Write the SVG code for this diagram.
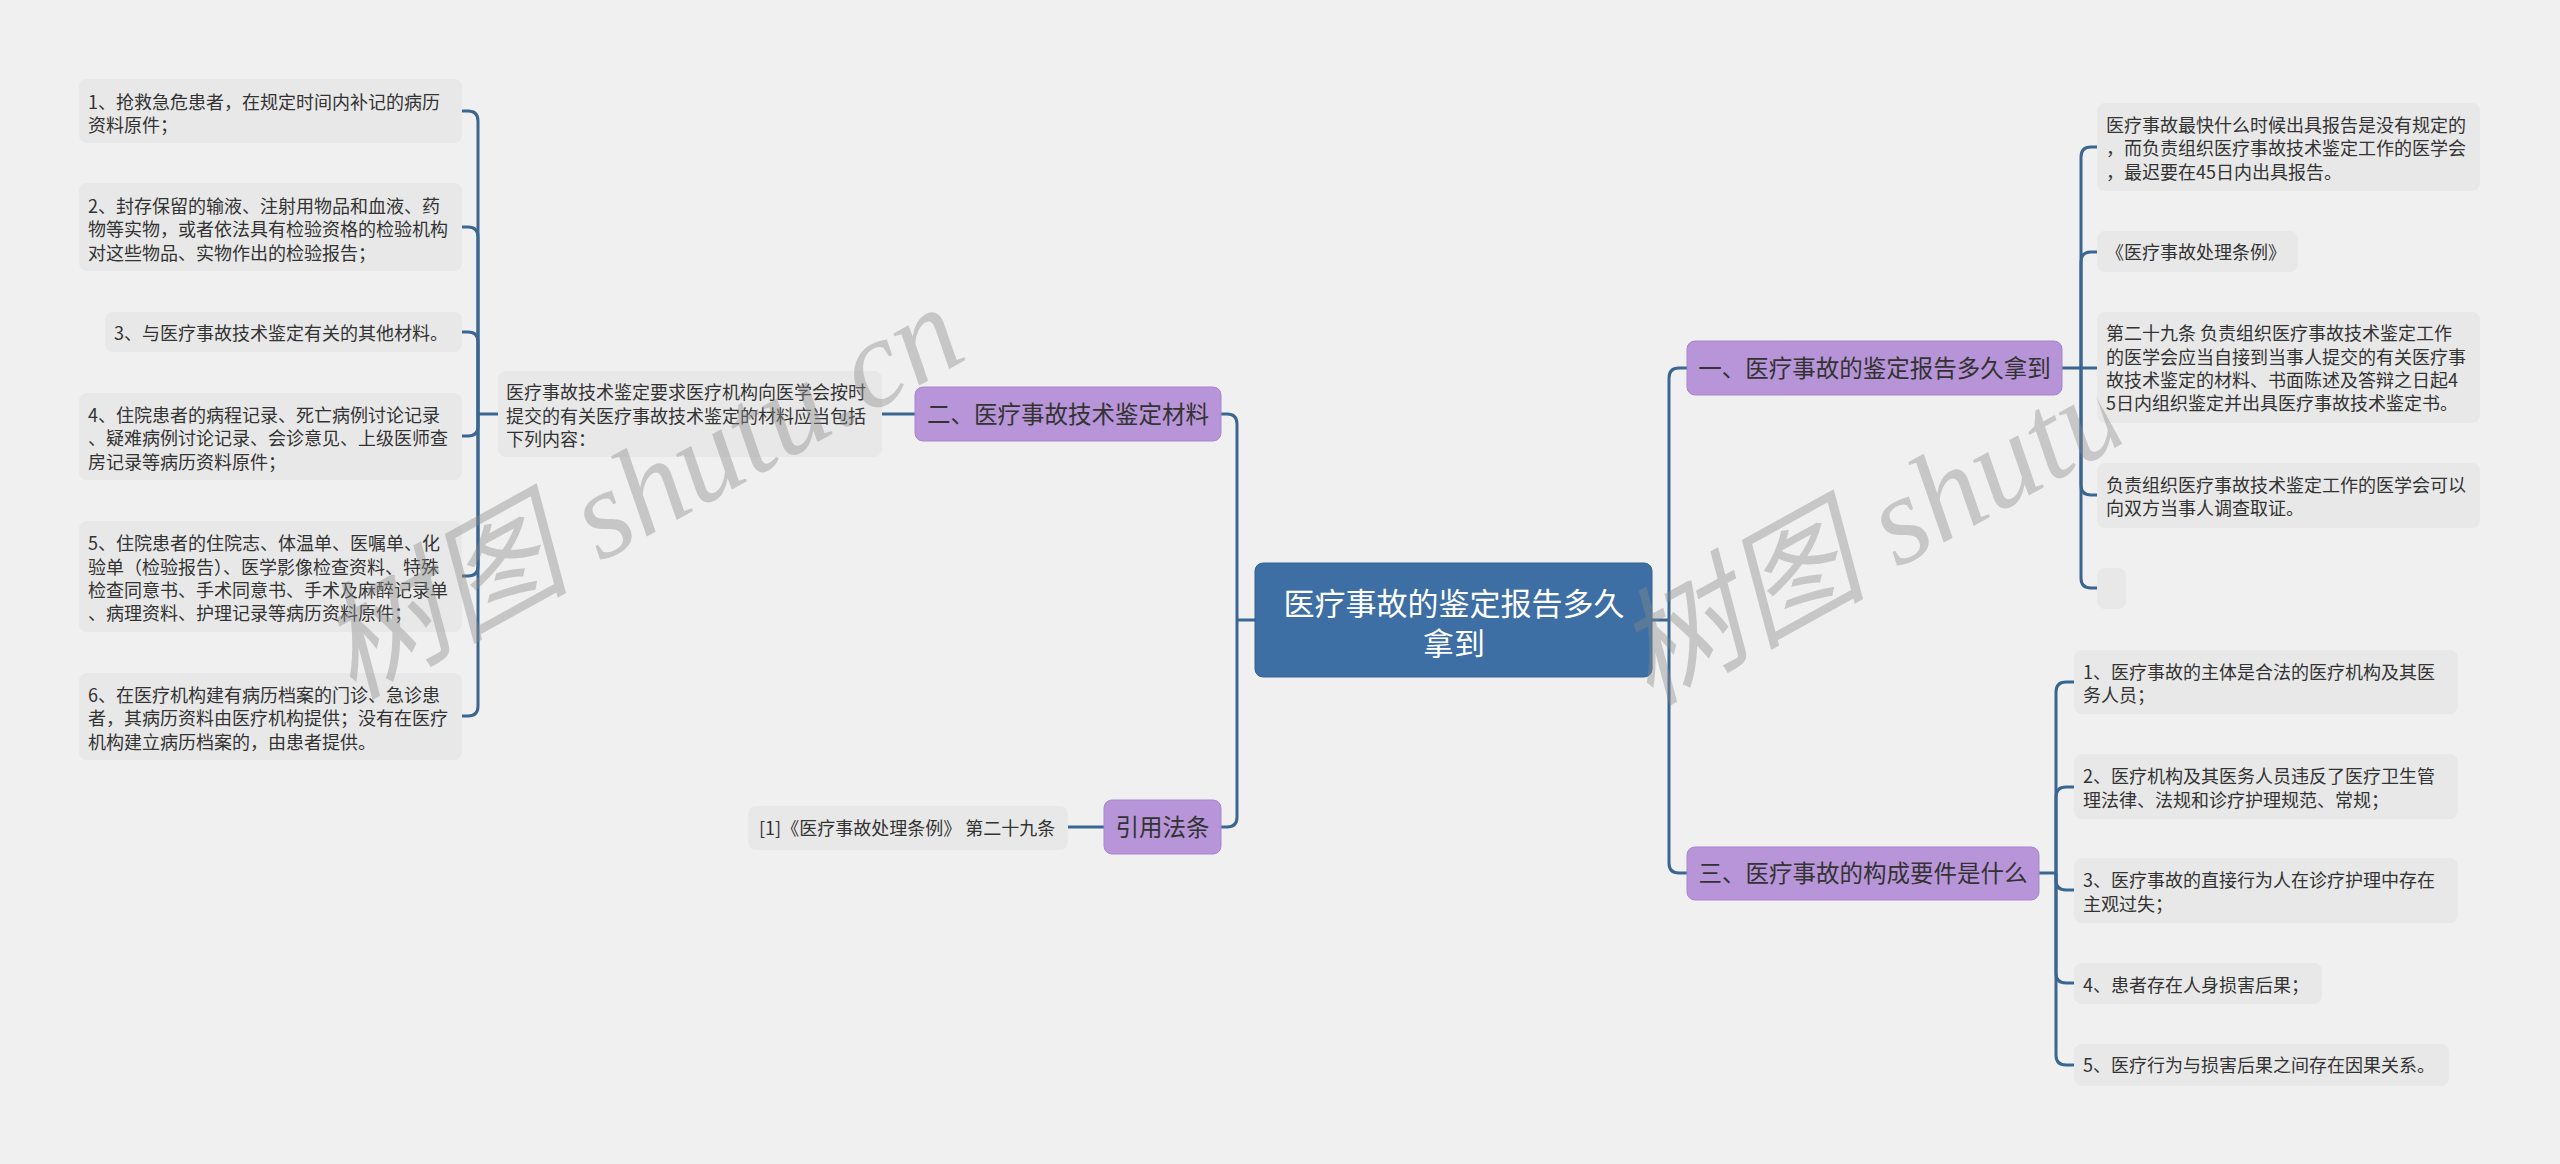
<svg xmlns="http://www.w3.org/2000/svg" width="2560" height="1164" viewBox="0 0 2560 1164">
<defs>
<style>
.item{fill:#e8e8e8}
.branch{fill:#b795d8;stroke:#a985cf;stroke-width:1}
.root{fill:#3d6fa4;stroke:#35628f;stroke-width:1}
.t{font-family:"Noto Sans CJK SC","Noto Sans",sans-serif;font-size:18px;fill:#333}
.bt{font-family:"Noto Sans CJK SC","Noto Sans",sans-serif;font-size:23.5px;fill:#333;text-anchor:middle}
.rt{font-family:"Noto Sans CJK SC","Noto Sans",sans-serif;font-size:31px;fill:#fff;text-anchor:middle}
.conn path{fill:none;stroke:#3a6792;stroke-width:3}
.wm{font-family:"Liberation Serif","Noto Sans CJK SC",serif;font-style:italic;font-size:126px;fill:#8a8a8a;opacity:0.4}
</style>
<clipPath id="wmclip"><rect x="1500" y="200" width="690" height="700"/></clipPath>
</defs>
<rect x="0" y="0" width="2560" height="1164" fill="#f0f0f0"/>

<g class="conn" id="connectors">
<path d="M1255 620 H1237"/>
<path d="M1237 620 V424 Q1237 414 1227 414 H1221"/>
<path d="M1237 620 V817 Q1237 827 1227 827 H1221"/>
<path d="M915 414 H882"/>
<path d="M498 414 H478"/>
<path d="M478 414 V121 Q478 111 468 111 H462"/>
<path d="M478 414 V237 Q478 227 468 227 H462"/>
<path d="M478 414 V342 Q478 332 468 332 H462"/>
<path d="M478 414 V426 Q478 436 468 436 H462"/>
<path d="M478 414 V566 Q478 576 468 576 H462"/>
<path d="M478 414 V706 Q478 716 468 716 H462"/>
<path d="M1104 827 H1068"/>
<path d="M1652 620 H1669"/>
<path d="M1669 620 V378 Q1669 368 1679 368 H1687"/>
<path d="M1669 620 V863 Q1669 873 1679 873 H1687"/>
<path d="M2062 368 H2081"/>
<path d="M2081 368 V157 Q2081 147 2091 147 H2097"/>
<path d="M2081 368 V262 Q2081 252 2091 252 H2097"/>
<path d="M2081 368 H2097"/>
<path d="M2081 368 V485 Q2081 495 2091 495 H2097"/>
<path d="M2081 368 V578 Q2081 588 2091 588 H2097"/>
<path d="M2039 873 H2056"/>
<path d="M2056 873 V692 Q2056 682 2066 682 H2074"/>
<path d="M2056 873 V797 Q2056 787 2066 787 H2074"/>
<path d="M2056 873 V880 Q2056 890 2066 890 H2074"/>
<path d="M2056 873 V973 Q2056 983 2066 983 H2074"/>
<path d="M2056 873 V1055 Q2056 1065 2066 1065 H2074"/>
</g>

<g id="root">
<rect class="root" x="1255" y="563" width="397" height="114" rx="8"/>
<text class="rt" x="1454" y="615">医疗事故的鉴定报告多久</text>
<text class="rt" x="1454" y="655">拿到</text>
</g>

<g id="branch-2">
<rect class="branch" x="915" y="387" width="306" height="54" rx="8"/>
<text class="bt" x="1068" y="423">二、医疗事故技术鉴定材料</text>
</g>
<g id="branch-2-text">
<rect class="item" x="498" y="371" width="384" height="86" rx="8"/>
<text class="t" x="506" y="399">医疗事故技术鉴定要求医疗机构向医学会按时</text>
<text class="t" x="506" y="423">提交的有关医疗事故技术鉴定的材料应当包括</text>
<text class="t" x="506" y="446">下列内容：</text>
</g>
<g id="l1">
<rect class="item" x="79" y="79" width="383" height="64" rx="8"/>
<text class="t" x="88" y="109">1、抢救急危患者，在规定时间内补记的病历</text>
<text class="t" x="88" y="132">资料原件；</text>
</g>
<g id="l2">
<rect class="item" x="79" y="183" width="383" height="88" rx="8"/>
<text class="t" x="88" y="213">2、封存保留的输液、注射用物品和血液、药</text>
<text class="t" x="88" y="236">物等实物，或者依法具有检验资格的检验机构</text>
<text class="t" x="88" y="260">对这些物品、实物作出的检验报告；</text>
</g>
<g id="l3">
<rect class="item" x="105" y="312" width="357" height="40" rx="8"/>
<text class="t" x="114" y="340">3、与医疗事故技术鉴定有关的其他材料。</text>
</g>
<g id="l4">
<rect class="item" x="79" y="393" width="383" height="87" rx="8"/>
<text class="t" x="88" y="422">4、住院患者的病程记录、死亡病例讨论记录</text>
<text class="t" x="88" y="445">、疑难病例讨论记录、会诊意见、上级医师查</text>
<text class="t" x="88" y="469">房记录等病历资料原件；</text>
</g>
<g id="l5">
<rect class="item" x="79" y="521" width="383" height="111" rx="8"/>
<text class="t" x="88" y="550">5、住院患者的住院志、体温单、医嘱单、化</text>
<text class="t" x="88" y="574">验单（检验报告）、医学影像检查资料、特殊</text>
<text class="t" x="88" y="597">检查同意书、手术同意书、手术及麻醉记录单</text>
<text class="t" x="88" y="620">、病理资料、护理记录等病历资料原件；</text>
</g>
<g id="l6">
<rect class="item" x="79" y="673" width="383" height="87" rx="8"/>
<text class="t" x="88" y="702">6、在医疗机构建有病历档案的门诊、急诊患</text>
<text class="t" x="88" y="725">者，其病历资料由医疗机构提供；没有在医疗</text>
<text class="t" x="88" y="749">机构建立病历档案的，由患者提供。</text>
</g>

<g id="branch-cite">
<rect class="branch" x="1104" y="800" width="117" height="54" rx="8"/>
<text class="bt" x="1162.5" y="836">引用法条</text>
</g>
<g id="cite-1">
<rect class="item" x="748" y="806" width="320" height="44" rx="8"/>
<text class="t" x="759" y="835">[1]《医疗事故处理条例》 第二十九条</text>
</g>

<g id="branch-1">
<rect class="branch" x="1687" y="341" width="375" height="54" rx="8"/>
<text class="bt" x="1874.5" y="377">一、医疗事故的鉴定报告多久拿到</text>
</g>
<g id="r1a">
<rect class="item" x="2097" y="103" width="383" height="88" rx="8"/>
<text class="t" x="2106" y="132">医疗事故最快什么时候出具报告是没有规定的</text>
<text class="t" x="2106" y="155">，而负责组织医疗事故技术鉴定工作的医学会</text>
<text class="t" x="2106" y="179">，最迟要在45日内出具报告。</text>
</g>
<g id="r1b">
<rect class="item" x="2097" y="231" width="201" height="41" rx="8"/>
<text class="t" x="2106" y="259">《医疗事故处理条例》</text>
</g>
<g id="r1c">
<rect class="item" x="2097" y="312" width="383" height="111" rx="8"/>
<text class="t" x="2106" y="340">第二十九条 负责组织医疗事故技术鉴定工作</text>
<text class="t" x="2106" y="364">的医学会应当自接到当事人提交的有关医疗事</text>
<text class="t" x="2106" y="387">故技术鉴定的材料、书面陈述及答辩之日起4</text>
<text class="t" x="2106" y="410">5日内组织鉴定并出具医疗事故技术鉴定书。</text>
</g>
<g id="r1d">
<rect class="item" x="2097" y="463" width="383" height="65" rx="8"/>
<text class="t" x="2106" y="492">负责组织医疗事故技术鉴定工作的医学会可以</text>
<text class="t" x="2106" y="515">向双方当事人调查取证。</text>
</g>
<g id="r1e">
<rect class="item" x="2097" y="568" width="29" height="41" rx="8"/>
</g>

<g id="branch-3">
<rect class="branch" x="1687" y="847" width="352" height="53" rx="8"/>
<text class="bt" x="1863" y="882">三、医疗事故的构成要件是什么</text>
</g>
<g id="r3a">
<rect class="item" x="2074" y="650" width="384" height="64" rx="8"/>
<text class="t" x="2083" y="679">1、医疗事故的主体是合法的医疗机构及其医</text>
<text class="t" x="2083" y="702">务人员；</text>
</g>
<g id="r3b">
<rect class="item" x="2074" y="754" width="384" height="65" rx="8"/>
<text class="t" x="2083" y="783">2、医疗机构及其医务人员违反了医疗卫生管</text>
<text class="t" x="2083" y="807">理法律、法规和诊疗护理规范、常规；</text>
</g>
<g id="r3c">
<rect class="item" x="2074" y="858" width="384" height="65" rx="8"/>
<text class="t" x="2083" y="887">3、医疗事故的直接行为人在诊疗护理中存在</text>
<text class="t" x="2083" y="911">主观过失；</text>
</g>
<g id="r3d">
<rect class="item" x="2074" y="963" width="248" height="41" rx="8"/>
<text class="t" x="2083" y="992">4、患者存在人身损害后果；</text>
</g>
<g id="r3e">
<rect class="item" x="2074" y="1044" width="375" height="42" rx="8"/>
<text class="t" x="2083" y="1072">5、医疗行为与损害后果之间存在因果关系。</text>
</g>

<g id="watermark">
<text class="wm" x="352" y="700" transform="rotate(-29 352 700)">树图 shutu.cn</text>
<text class="wm" x="1649" y="706" transform="rotate(-29 1649 706)" clip-path="url(#wmclip)">树图 shutu.cn</text>
</g>
</svg>
